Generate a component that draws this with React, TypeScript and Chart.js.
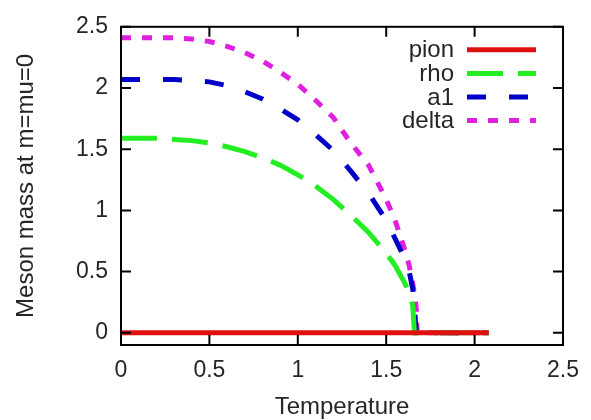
import React, { useEffect, useRef } from "react";
import { Chart, registerables } from "chart.js";

Chart.register(...registerables);

const temperature = [0, 0.1, 0.2, 0.3, 0.4, 0.5, 0.6, 0.7, 0.8, 0.9, 1.0, 1.1, 1.2, 1.3, 1.4, 1.5, 1.55, 1.6, 1.63, 1.65, 1.66, 1.67, 1.675, 1.7, 1.8, 1.9, 2.0, 2.08];
const pion = [0, 0, 0, 0, 0, 0, 0, 0, 0, 0, 0, 0, 0, 0, 0, 0, 0, 0, 0, 0, 0, 0, 0, 0, 0, 0, 0, 0];
const rho = [1.59, 1.59, 1.59, 1.58, 1.57, 1.55, 1.52, 1.48, 1.43, 1.37, 1.29, 1.2, 1.09, 0.96, 0.82, 0.65, 0.55, 0.42, 0.33, 0.22, 0, 0, 0, 0, 0, 0, 0, 0];
const a1 = [2.07, 2.07, 2.07, 2.07, 2.06, 2.05, 2.02, 1.97, 1.91, 1.83, 1.74, 1.62, 1.49, 1.32, 1.14, 0.92, 0.77, 0.62, 0.5, 0.36, 0.2, 0, 0, 0, 0, 0, 0, 0];
const delta = [2.41, 2.41, 2.41, 2.41, 2.4, 2.38, 2.34, 2.29, 2.22, 2.13, 2.03, 1.9, 1.76, 1.55, 1.37, 1.09, 0.92, 0.7, 0.55, 0.4, 0.32, 0.2, 0, 0, 0, 0, 0, 0];
const xTicks = [0, 0.5, 1, 1.5, 2, 2.5];
const yTicks = [0, 0.5, 1, 1.5, 2, 2.5];

const FONT = "'Liberation Sans', Arial, Helvetica, sans-serif";
const TEXT = "#262626";

const toPoints = (vals: number[]) => vals.map((v, i) => ({ x: temperature[i], y: v }));

const framePlugin = {
  id: "frame",
  afterDatasetsDraw(chart: any) {
    const { ctx, chartArea: a, scales } = chart;
    ctx.save();
    ctx.strokeStyle = "#000";
    ctx.lineWidth = 2;
    ctx.strokeRect(a.left, a.top, a.right - a.left, a.bottom - a.top);
    const tl = 10;
    ctx.beginPath();
    xTicks.forEach((t) => {
      const px = scales.x.getPixelForValue(t);
      ctx.moveTo(px, a.bottom);
      ctx.lineTo(px, a.bottom - tl);
      ctx.moveTo(px, a.top);
      ctx.lineTo(px, a.top + tl);
    });
    yTicks.forEach((t) => {
      const py = scales.y.getPixelForValue(t);
      ctx.moveTo(a.left, py);
      ctx.lineTo(a.left + tl, py);
      ctx.moveTo(a.right, py);
      ctx.lineTo(a.right - tl, py);
    });
    ctx.stroke();

    // legend
    const lineRight = a.right - 27;
    const lineLeft = lineRight - 69;
    const textRight = lineLeft - 13;
    const top = a.top + 23;
    const step = 23.6;
    ctx.font = `24px ${FONT}`;
    ctx.textAlign = "right";
    ctx.textBaseline = "middle";
    chart.data.datasets.forEach((ds: any, i: number) => {
      const y = top + i * step;
      ctx.fillStyle = TEXT;
      ctx.fillText(ds.label, textRight, y + 1);
      ctx.strokeStyle = ds.borderColor;
      ctx.lineWidth = ds.borderWidth;
      ctx.setLineDash(ds.borderDash || []);
      ctx.beginPath();
      ctx.moveTo(lineLeft, y);
      ctx.lineTo(lineRight, y);
      ctx.stroke();
      ctx.setLineDash([]);
    });
    ctx.restore();
  },
};

export default function App() {
  const ref = useRef<HTMLCanvasElement>(null);
  useEffect(() => {
    document.body.style.margin = "0";
    const chart = new Chart(ref.current!, {
      type: "line",
      data: {
        datasets: [
          { label: "pion", data: toPoints(pion), borderColor: "#e01010", borderWidth: 5, borderDash: [] },
          { label: "rho", data: toPoints(rho), borderColor: "#22ee22", borderWidth: 5, borderDash: [36, 15] },
          { label: "a1", data: toPoints(a1), borderColor: "#0000c8", borderWidth: 5, borderDash: [19, 23] },
          { label: "delta", data: toPoints(delta), borderColor: "#e020e0", borderWidth: 5, borderDash: [10, 11] },
        ].map((d) => ({ ...d, pointRadius: 0, fill: false, tension: 0 })),
      },
      options: {
        animation: false,
        responsive: false,
        events: [],
        layout: { padding: { top: 19, right: 21, left: 0, bottom: 0 } },
        plugins: { legend: { display: false }, tooltip: { enabled: false } },
        scales: {
          x: {
            type: "linear",
            min: 0,
            max: 2.5,
            afterBuildTicks: (s: any) => { s.ticks = xTicks.map((v) => ({ value: v })); },
            afterFit: (s: any) => { s.height = 75; },
            grid: { display: false, drawTicks: false },
            border: { display: false },
            ticks: { padding: 12, color: TEXT, font: { family: FONT, size: 23 }, callback: (v: any) => String(v) },
            title: { display: true, text: "Temperature", color: TEXT, font: { family: FONT, size: 24 }, padding: { top: 0, bottom: -2 } },
          },
          y: {
            type: "linear",
            min: -0.1,
            max: 2.5,
            afterBuildTicks: (s: any) => { s.ticks = yTicks.map((v) => ({ value: v })); },
            afterFit: (s: any) => { s.width = 121; },
            grid: { display: false, drawTicks: false },
            border: { display: false },
            ticks: { padding: 13, color: TEXT, font: { family: FONT, size: 23 }, callback: (v: any) => String(v) },
            title: { display: true, text: "Meson mass at m=mu=0", color: TEXT, font: { family: FONT, size: 24 }, padding: { top: 12, bottom: 0 } },
          },
        },
      },
      plugins: [framePlugin],
    });
    return () => chart.destroy();
  }, []);
  return <canvas ref={ref} width={591} height={420} style={{ display: "block" }} />;
}
